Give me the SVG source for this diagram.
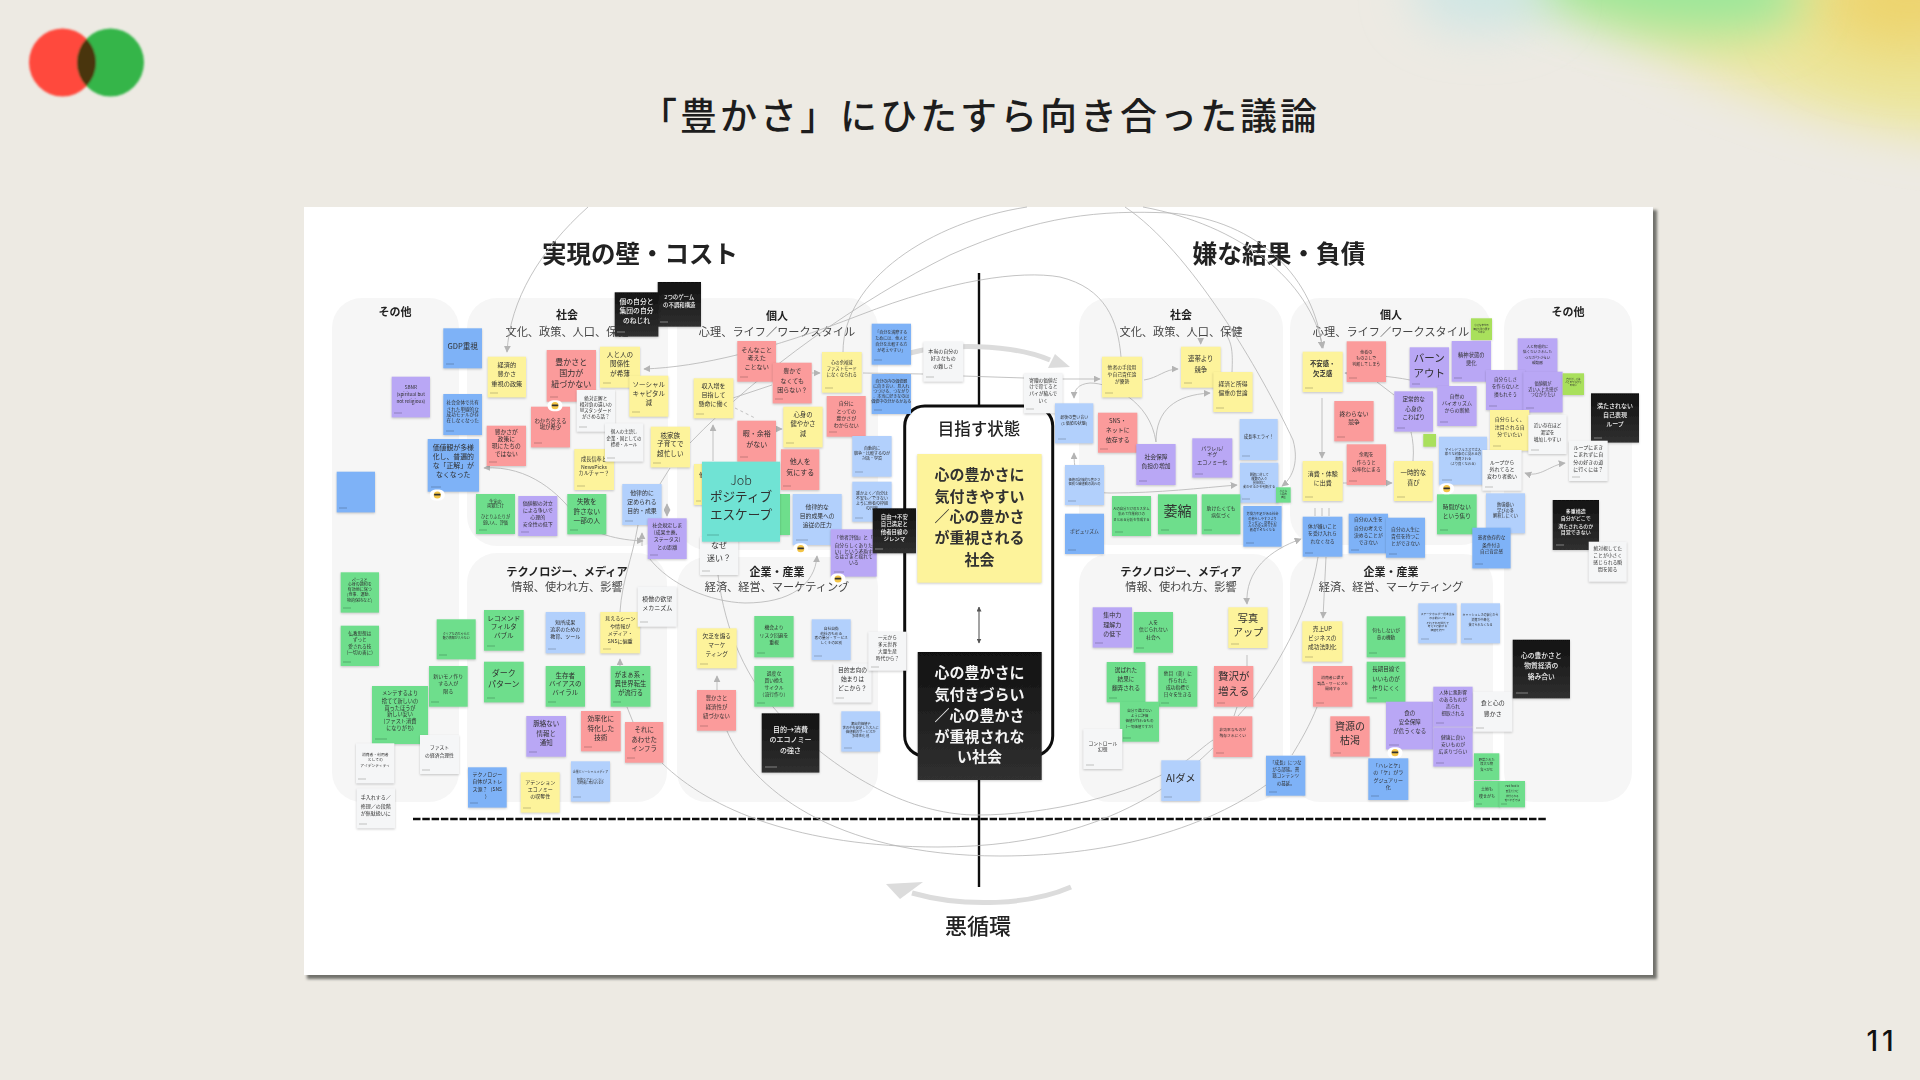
<svg xmlns="http://www.w3.org/2000/svg" xmlns:xlink="http://www.w3.org/1999/xlink" width="1920" height="1080" viewBox="0 0 1920 1080">
<style>
text{font-family:"Noto Sans CJK JP","Noto Sans",sans-serif;text-anchor:middle;fill:#303030}
.panel{fill:#f6f6f6}
.hd{font-weight:700;fill:#222}
.sub{font-size:11.2px;fill:#444}
.c{fill:none;stroke:#b4b4b4;stroke-width:.8}
.ca{marker-end:url(#ah)}
.cb{marker-end:url(#ah);marker-start:url(#ah)}
.n{filter:drop-shadow(0 1px 1px rgba(0,0,0,.2))}
.y{fill:#fdf39b}.r{fill:#fb9b9b}.b{fill:#7eb2f7}.l{fill:#b2d0fc}.p{fill:#b9a7f5}.g{fill:#6ede8c}.w{fill:#f5f6f7}.k{fill:url(#kg)}.t{fill:#6fe3d4}.m{fill:#a9e05c}
.a{stroke:#000;stroke-opacity:.22;stroke-width:1;fill:none}
.k~text{fill:#f4f4f4;font-weight:500}
.k~.a{stroke:#fff;stroke-opacity:.4}
</style>
<defs>
<filter id="soft" x="0" y="0" width="1920" height="1080" filterUnits="userSpaceOnUse"><feGaussianBlur stdDeviation="0.38"/></filter>
<filter id="sh" x="280" y="190" width="1400" height="810" filterUnits="userSpaceOnUse"><feGaussianBlur stdDeviation="1.6"/></filter>
<filter id="bl1" x="1200" y="-300" width="1000" height="800" filterUnits="userSpaceOnUse"><feGaussianBlur stdDeviation="34"/></filter>
<filter id="bl2" x="1200" y="-300" width="1000" height="800" filterUnits="userSpaceOnUse"><feGaussianBlur stdDeviation="24"/></filter>
<filter id="bl3" x="0" y="0" width="200" height="150" filterUnits="userSpaceOnUse"><feGaussianBlur stdDeviation="1"/></filter>
<linearGradient id="kg" x1="0" y1="0" x2="0" y2="1"><stop offset="0" stop-color="#111"/><stop offset="1" stop-color="#303030"/></linearGradient>
<clipPath id="rc"><ellipse cx="62.5" cy="62.5" rx="33.5" ry="34"/></clipPath>
<marker id="ah" viewBox="0 0 10 10" refX="9" refY="5" markerWidth="7" markerHeight="7" markerUnits="userSpaceOnUse" orient="auto-start-reverse"><path d="M0 0L10 5L0 10Z" fill="#b4b4b4"/></marker>
<marker id="ad" viewBox="0 0 10 10" refX="9" refY="5" markerWidth="5" markerHeight="5" markerUnits="userSpaceOnUse" orient="auto-start-reverse"><path d="M0 0L10 5L0 10Z" fill="#555"/></marker>
<g id="em"><rect x="-7.500" y="-5.500" width="15" height="11" rx="5.500" fill="#fff"/><circle r="3.600" fill="#f3c445"/><rect x="-3.200" y="-1.300" width="6.400" height="1.800" rx=".6" fill="#333"/></g>
</defs>
<rect width="1920" height="1080" fill="#edeae3"/>
<g id="corner-glow">
<ellipse cx="1780" cy="20" rx="270" ry="75" transform="rotate(20 1780 20)" fill="#ece69c" filter="url(#bl2)"/>
<ellipse cx="1910" cy="-5" rx="100" ry="55" fill="#edd266" filter="url(#bl1)"/>
<ellipse cx="1640" cy="-28" rx="165" ry="55" transform="rotate(10 1640 -28)" fill="#9ce79a" filter="url(#bl2)"/>
<ellipse cx="1480" cy="-10" rx="70" ry="40" fill="#cfe6e4" filter="url(#bl2)"/>
</g>
<g id="logo" filter="url(#bl3)">
<ellipse cx="62.5" cy="62.5" rx="33.5" ry="34" fill="#ff4a3d"/>
<ellipse cx="110.5" cy="62.5" rx="33.5" ry="34" fill="#35b54a"/>
<ellipse cx="110.5" cy="62.5" rx="33.5" ry="34" fill="#4a3510" clip-path="url(#rc)"/>
</g>
<text id="title" x="980" y="130" font-size="37" font-weight="500" letter-spacing="3" style="fill:#1d1d1d">「豊かさ」にひたすら向き合った議論</text>
<text id="page" x="1882" y="1051" font-size="28" font-weight="500" letter-spacing="4" style="font-family:Inter,'Liberation Sans',sans-serif;fill:#111">11</text>
<rect x="307" y="210" width="1350" height="769" fill="#6f6f6a" filter="url(#sh)"/>
<g id="sheet" filter="url(#soft)">
<rect x="304" y="207" width="1349" height="768" fill="#fff"/>
<g id="panels">
<rect class="panel" x="332" y="298" width="127" height="504" rx="30"/>
<rect class="panel" x="467" y="298" width="201" height="248" rx="30"/>
<rect class="panel" x="467" y="553" width="200" height="249" rx="30"/>
<rect class="panel" x="677" y="298" width="201" height="252" rx="30"/>
<rect class="panel" x="677" y="557" width="201" height="245" rx="30"/>
<rect class="panel" x="1079" y="298" width="204" height="247" rx="30"/>
<rect class="panel" x="1079" y="554" width="204" height="248" rx="30"/>
<rect class="panel" x="1290" y="298" width="201" height="247" rx="30"/>
<rect class="panel" x="1290" y="554" width="203" height="248" rx="30"/>
<rect class="panel" x="1504" y="298" width="128" height="504" rx="30"/>
</g>
<g id="headings">
<text class="hd" x="640" y="263" font-size="24.5">実現の壁・コスト</text>
<text class="hd" x="1279" y="263" font-size="24.7">嫌な結果・負債</text>
<text class="hd" x="395" y="316" font-size="11">その他</text>
<text class="hd" x="567" y="319" font-size="11">社会</text>
<text class="sub" x="567" y="336">文化、政策、人口、保健</text>
<text class="hd" x="777" y="320" font-size="11">個人</text>
<text class="sub" x="777" y="336">心理、ライフ／ワークスタイル</text>
<text class="hd" x="567" y="576" font-size="11.2">テクノロジー、メディア</text>
<text class="sub" x="567" y="591">情報、使われ方、影響</text>
<text class="hd" x="777" y="576" font-size="11">企業・産業</text>
<text class="sub" x="777" y="591">経済、経営、マーケティング</text>
<text class="hd" x="1181" y="319" font-size="11">社会</text>
<text class="sub" x="1181" y="336">文化、政策、人口、保健</text>
<text class="hd" x="1391" y="319" font-size="11">個人</text>
<text class="sub" x="1391" y="336">心理、ライフ／ワークスタイル</text>
<text class="hd" x="1181" y="576" font-size="11.2">テクノロジー、メディア</text>
<text class="sub" x="1181" y="591">情報、使われ方、影響</text>
<text class="hd" x="1391" y="576" font-size="11">企業・産業</text>
<text class="sub" x="1391" y="591">経済、経営、マーケティング</text>
<text class="hd" x="1568" y="316" font-size="11">その他</text>
</g>
<g id="axis">
<path d="M979 273V406M979 780V887" stroke="#111" stroke-width="2.400" fill="none"/>
<path d="M413 819H1546" stroke="#111" stroke-width="2.400" stroke-dasharray="7.500 1.800" fill="none"/>
</g>
<g id="connectors">
<path class="c ca" d="M588 207C540 250 510 300 507 352"/>
<path class="c" d="M843 352C843 280 930 222 1027 207"/>
<path class="c ca" d="M690 443C760 370 860 300 950 255C1040 215 1100 210 1170 213C1260 220 1315 280 1322 348"/>
<path class="c ca" d="M1143 207C1240 225 1310 280 1323 348"/>
<path class="c ca" d="M1121 357C1118 320 1105 288 1060 277C1020 270 950 280 860 315C770 350 700 367 644 369"/>
<path class="c" d="M772 385L733 398"/>
<path class="c ca" d="M1125 207C1190 250 1260 370 1293 440C1300 465 1290 480 1282 486"/>
<path class="c" d="M1232 372C1233 350 1232 340 1222 330"/>
<path class="c cb" d="M484 468C530 465 560 495 575 515C590 535 620 540 643 541"/>
<path class="c cb" d="M1074 453C1074 480 1082 493 1110 493C1160 493 1200 488 1237 485"/>
<path class="c ca" d="M1156 442C1156 410 1175 395 1210 393"/>
<path class="c ca" d="M1156 442C1150 400 1110 383 1090 383C1078 384 1074 390 1074 398"/>
<path class="c ca" d="M1144 380C1158 378 1165 369 1178 369"/>
<path class="c ca" d="M1060 379H1100"/>
<path class="c" d="M863 373L923 374M963 376L1024 378"/>
<path class="c ca" d="M1200.700 338V344"/>
<path class="c ca" d="M812 373H820"/>
<path class="c ca" d="M776 429H782"/>
<path class="c ca" d="M713 461V425"/>
<path class="c" d="M735 408L755 418" stroke-dasharray="3 3"/>
<path class="c ca" d="M649 558C670 585 710 602 745 603C790 603 815 585 817 556"/>
<path class="c" d="M718 575C725 630 745 680 785 720C850 785 920 815 977 815C1050 815 1130 795 1180 765C1195 755 1205 745 1213 740"/>
<path class="c" d="M727 731C750 785 830 856 1000 856C1120 856 1210 825 1266 785"/>
<path class="c" d="M662 763C710 810 800 847 938 847C1040 847 1110 822 1160 790C1185 775 1200 760 1213 748"/>
<path class="c" d="M670 468L660 484"/>
<path class="c" d="M638 525C632 560 622 580 620 612"/>
<path class="c ca" d="M642 546V533"/>
<path class="c cb" d="M667 504V516"/>
<path class="c ca" d="M620 666V659"/>
<path class="c" d="M627 707L635 727"/>
<path class="c ca" d="M717 690V676"/>
<path class="c ca" d="M1322 398V458"/>
<path class="c ca" d="M1343 483H1392"/>
<path class="c" d="M1413 461C1414 450 1413 440 1411 432"/>
<path class="c ca" d="M1410 380C1390 376 1370 375 1345 373"/>
<path class="c" d="M1377 382L1394 395"/>
<path class="c" d="M1315 508V516M1322 508V516M1329 508V516"/>
<path class="c cb" d="M1301 539C1270 550 1245 570 1247 604"/>
<path class="c" d="M1318 557C1310 610 1280 660 1255 697C1248 705 1243 710 1238 716"/>
<path class="c ca" d="M1326 557L1323 618"/>
<path class="c" d="M1317 707C1310 725 1300 742 1292 755"/>
<path class="c" d="M1247 655V666M1237 707L1234 716"/>
<path class="c cb" d="M1525 473C1540 478 1550 465 1565 463"/>
<path d="M910 353C945 344 1010 343 1050 360" fill="none" stroke="#dcdcdc" stroke-width="5"/>
<path d="M1055 354L1070 367L1048 368Z" fill="#dcdcdc"/>
<path d="M1071 887C1030 905 965 908 912 893" fill="none" stroke="#dcdcdc" stroke-width="5"/>
<path d="M923 882L886 884L900 899Z" fill="#dcdcdc"/>
</g>
<g id="goal-frame">
<rect x="904.700" y="406" width="148" height="350" rx="20" fill="#fff" stroke="#111" stroke-width="3"/>
<text x="979" y="435" font-size="16.500" font-weight="500" style="fill:#222">目指す状態</text>
<path d="M979 607V643" stroke="#666" stroke-width="1.200" fill="none" marker-start="url(#ad)" marker-end="url(#ad)"/>
<text x="978" y="934" font-size="22" font-weight="500" style="fill:#222">悪循環</text>
</g>

<g id="n1" class="n"><rect class="b" x="443.300" y="328.300" width="38.700" height="40"/><path class="a" d="M446 364h8"/><text font-size="7.600"><tspan x="462.700" y="348.800">GDP重視</tspan></text></g>
<g id="n2" class="n"><rect class="p" x="391.700" y="376.700" width="38.300" height="40.700"/><path class="a" d="M394 413h8"/><text font-size="4.700"><tspan x="410.800" y="388.700">SBNR</tspan><tspan x="410.800" y="395.700">(spiritual but</tspan><tspan x="410.800" y="402.700">not religious)</tspan></text></g>
<g id="n3" class="n"><rect class="b" x="443.300" y="394" width="38.700" height="41"/><path class="a" d="M446 431h8"/><text font-size="4.600"><tspan x="462.700" y="404.400">社会全体で共有</tspan><tspan x="462.700" y="410.700">された単線的な</tspan><tspan x="462.700" y="416.400">成功モデルが存</tspan><tspan x="462.700" y="422.400">在しなくなった</tspan></text></g>
<g id="n4" class="n"><rect class="b" x="427.700" y="439" width="51.300" height="52.700"/><path class="a" d="M431 487h10"/><text font-size="6.900"><tspan x="453.300" y="449.800">価値観が多様</tspan><tspan x="453.300" y="459.200">化し、普遍的</tspan><tspan x="453.300" y="468.200">な「正解」が</tspan><tspan x="453.300" y="477.200">なくなった</tspan></text></g>
<g id="n5" class="n"><rect class="b" x="336.700" y="471.700" width="38.300" height="40.700"/><path class="a" d="M339 508h8"/></g>
<g id="n6" class="n"><rect class="y" x="487.700" y="356.700" width="38.300" height="40.700"/><path class="a" d="M490 393h8"/><text font-size="6.200"><tspan x="506.800" y="367.300">経済的</tspan><tspan x="506.800" y="376.300">豊かさ</tspan><tspan x="506.800" y="385.600">重視の政策</tspan></text></g>
<g id="n7" class="n"><rect class="r" x="546.700" y="350" width="49.300" height="51.700"/><path class="a" d="M550 397h8"/><text font-size="8"><tspan x="571.300" y="364.700">豊かさと</tspan><tspan x="571.300" y="375.700">国力が</tspan><tspan x="571.300" y="386.700">紐づかない</tspan></text></g>
<g id="n8" class="n"><rect class="y" x="600" y="346.700" width="40" height="41"/><path class="a" d="M603 383h8"/><text font-size="6.600"><tspan x="620" y="357.400">人と人の</tspan><tspan x="620" y="366.400">関係性</tspan><tspan x="620" y="376.100">が希薄</tspan></text></g>
<g id="n9" class="n"><rect class="y" x="629.300" y="375.700" width="39" height="41"/><path class="a" d="M632 412h8"/><text font-size="6.500"><tspan x="648.800" y="386.700">ソーシャル</tspan><tspan x="648.800" y="395.700">キャピタル</tspan><tspan x="648.800" y="404.700">減</tspan></text></g>
<g id="n11" class="n"><rect class="r" x="531" y="406.700" width="39" height="40.700"/><path class="a" d="M534 443h8"/><text font-size="5.400"><tspan x="550.500" y="422.700">わかち合える</tspan><tspan x="550.500" y="429.300">場が希少</tspan></text></g>
<g id="n10" class="n"><rect class="w" x="576.700" y="390" width="38.300" height="41.700"/><path class="a" d="M579 427h8"/><text font-size="4.600"><tspan x="595.800" y="400">絶対正解と</tspan><tspan x="595.800" y="406">相対負の違いの</tspan><tspan x="595.800" y="412.400">Wスタンダード</tspan><tspan x="595.800" y="418.400">がさめる話？</tspan></text></g>
<g id="n12" class="n"><rect class="r" x="486.700" y="425.700" width="39.300" height="40.300"/><path class="a" d="M489 462h8"/><text font-size="5.800"><tspan x="506.300" y="433.800">豊かさが</tspan><tspan x="506.300" y="440.800">政策に</tspan><tspan x="506.300" y="448.100">現にたちの</tspan><tspan x="506.300" y="455.800">ではない</tspan></text></g>
<g id="n15" class="n"><rect class="y" x="574.300" y="449" width="39.700" height="41"/><path class="a" d="M577 486h8"/><text font-size="5.200"><tspan x="594" y="460.900">成長信奉と</tspan><tspan x="594" y="468.600">NewsPicks</tspan><tspan x="594" y="475.200">カルチャー？</tspan></text></g>
<g id="n13" class="n"><rect class="w" x="605" y="423.300" width="38.300" height="38.300"/><path class="a" d="M607 458h8"/><text font-size="4.400"><tspan x="624" y="433.300">個人の主語し</tspan><tspan x="624" y="440.300">企業・国としての</tspan><tspan x="624" y="445.600">標榜・ルール</tspan></text></g>
<g id="n14" class="n"><rect class="y" x="650.700" y="426.700" width="39.300" height="40.700"/><path class="a" d="M653 463h8"/><text font-size="6.600"><tspan x="670.300" y="438.100">核家族</tspan><tspan x="670.300" y="446.400">子育てで</tspan><tspan x="670.300" y="455.700">超忙しい</tspan></text></g>
<g id="n16" class="n"><rect class="l" x="622.300" y="484" width="39.300" height="41"/><path class="a" d="M625 521h8"/><text font-size="5.900"><tspan x="642" y="494.900">他律的に</tspan><tspan x="642" y="503.900">定められる</tspan><tspan x="642" y="512.900">目的・成果</tspan></text></g>
<g id="n17" class="n"><rect class="g" x="567.300" y="494" width="39" height="40.300"/><path class="a" d="M570 530h8"/><text font-size="6.600"><tspan x="586.800" y="504.100">失敗を</tspan><tspan x="586.800" y="513.700">許さない</tspan><tspan x="586.800" y="523.100">一部の人</tspan></text></g>
<g id="n18" class="n"><rect class="p" x="518.300" y="496" width="39" height="40"/><path class="a" d="M521 532h8"/><text font-size="5"><tspan x="537.800" y="504.500">価値観の対立</tspan><tspan x="537.800" y="511.800">による争いで</tspan><tspan x="537.800" y="519.100">心理的</tspan><tspan x="537.800" y="525.800">安全性の低下</tspan></text></g>
<g id="n19" class="n"><rect class="g" x="476" y="494" width="39" height="40"/><path class="a" d="M479 530h8"/><text font-size="4.200"><tspan x="495.500" y="502.500">生命の</tspan><tspan x="495.500" y="506.800">両親だけ</tspan><tspan x="495.500" y="518.200">ひとりふたりが</tspan><tspan x="495.500" y="523.500">弱い人、評価</tspan></text></g>
<g id="n20" class="n"><rect class="p" x="647.700" y="518.300" width="39" height="40.700"/><path class="a" d="M650 555h8"/><text font-size="5"><tspan x="667.200" y="526.800">社会規定しま</tspan><tspan x="667.200" y="534.100">(成果主義、</tspan><tspan x="667.200" y="541.100">ステータス)</tspan><tspan x="667.200" y="548.500">との距離</tspan></text></g>
<g id="n22" class="n"><rect class="k" x="657.700" y="282" width="43.300" height="44.700"/><path class="a" d="M660 322h8"/><text font-size="5.400"><tspan x="679.300" y="299.300">2つのゲーム</tspan><tspan x="679.300" y="307">の不調和構造</tspan></text></g>
<g id="n21" class="n"><rect class="k" x="614.700" y="292.300" width="43.700" height="44.300"/><path class="a" d="M617 332h8"/><text font-size="6.800"><tspan x="636.500" y="304.200">個の自分と</tspan><tspan x="636.500" y="313.200">集団の自分</tspan><tspan x="636.500" y="323.200">のねじれ</tspan></text></g>

<g id="n23" class="n"><rect class="g" x="340.700" y="572.300" width="38.300" height="40.300"/><path class="a" d="M343 608h8"/><text font-size="4"><tspan x="359.800" y="581.500">ペースと</tspan><tspan x="359.800" y="586.200">心身の調和を</tspan><tspan x="359.800" y="590.800">有効地に保つ</tspan><tspan x="359.800" y="595.800">(食事、運動、</tspan><tspan x="359.800" y="601.500">物的保持など)</tspan></text></g>
<g id="n24" class="n"><rect class="g" x="340.700" y="625.700" width="38.300" height="40.300"/><path class="a" d="M343 662h8"/><text font-size="4.600"><tspan x="359.800" y="635.400">仏教思想は</tspan><tspan x="359.800" y="641.400">ずっと</tspan><tspan x="359.800" y="647.700">愛される技</tspan><tspan x="359.800" y="654">(一切の善に)</tspan></text></g>
<g id="n25" class="n"><rect class="g" x="436.700" y="619.300" width="39" height="40"/><path class="a" d="M439 655h8"/><text font-size="3"><tspan x="456.200" y="635.400">クリアなのちゃんと</tspan><tspan x="456.200" y="639.400">魅力情報が入らない</tspan></text></g>
<g id="n26" class="n"><rect class="g" x="429" y="666" width="38.700" height="40.700"/><path class="a" d="M431 702h8"/><text font-size="5"><tspan x="448.300" y="677.800">新いモノ作り</tspan><tspan x="448.300" y="685.100">する人が</tspan><tspan x="448.300" y="692.500">限る</tspan></text></g>
<g id="n27" class="n"><rect class="g" x="372" y="686" width="56" height="58"/><path class="a" d="M375 739h12"/><text font-size="5.200"><tspan x="400" y="695.200">メンテするより</tspan><tspan x="400" y="702.900">捨てて新しいの</tspan><tspan x="400" y="709.600">買ったほうが</tspan><tspan x="400" y="715.900">新しい安い</tspan><tspan x="400" y="722.900">(ファスト消費</tspan><tspan x="400" y="730.200">になりがち)</tspan></text></g>
<g id="n28" class="n"><rect class="w" x="356" y="743.300" width="38.300" height="40"/><path class="a" d="M358 779h8"/><text font-size="3.800"><tspan x="375.200" y="756.100">消費者・利用者</tspan><tspan x="375.200" y="761.400">としての</tspan><tspan x="375.200" y="766.700">アイデンティティ</tspan></text></g>
<g id="n29" class="n"><rect class="w" x="420" y="735" width="39" height="39"/><path class="a" d="M422 770h8"/><text font-size="4.800"><tspan x="439.500" y="749.100">ファスト</tspan><tspan x="439.500" y="756.800">の経済合理性</tspan></text></g>
<g id="n30" class="n"><rect class="w" x="356.700" y="788.300" width="38.300" height="40"/><path class="a" d="M359 824h8"/><text font-size="5"><tspan x="375.800" y="799.100">手入れする／</tspan><tspan x="375.800" y="807.500">修理／の段階</tspan><tspan x="375.800" y="814.800">が無駄扱いに</tspan></text></g>
<g id="n31" class="n"><rect class="g" x="484" y="610" width="39.700" height="40.700"/><path class="a" d="M487 646h8"/><text font-size="6.600"><tspan x="503.800" y="621.100">レコメンド</tspan><tspan x="503.800" y="629.400">フィルタ</tspan><tspan x="503.800" y="638.400">バブル</tspan></text></g>
<g id="n32" class="n"><rect class="l" x="545.700" y="612" width="39.300" height="41.300"/><path class="a" d="M548 649h8"/><text font-size="5"><tspan x="565.300" y="624.100">短所成果</tspan><tspan x="565.300" y="631.100">追求のための</tspan><tspan x="565.300" y="638.100">教育、ツール</tspan></text></g>
<g id="n33" class="n"><rect class="y" x="600.300" y="612" width="39.700" height="41.300"/><path class="a" d="M603 649h8"/><text font-size="5.100"><tspan x="620.200" y="620.200">見えるシーン</tspan><tspan x="620.200" y="627.900">や情報が</tspan><tspan x="620.200" y="635.200">メディア・</tspan><tspan x="620.200" y="642.600">SNSに偏重</tspan></text></g>
<g id="n34" class="n"><rect class="w" x="637.700" y="586.700" width="39" height="40"/><path class="a" d="M640 622h8"/><text font-size="6"><tspan x="657.200" y="600.900">模倣の欲望</tspan><tspan x="657.200" y="609.500">メカニズム</tspan></text></g>
<g id="n35" class="n"><rect class="g" x="484" y="661.700" width="39.700" height="40.700"/><path class="a" d="M487 698h8"/><text font-size="8"><tspan x="503.800" y="676.300">ダーク</tspan><tspan x="503.800" y="687.300">パターン</tspan></text></g>
<g id="n36" class="n"><rect class="g" x="545.700" y="666" width="39.300" height="40.700"/><path class="a" d="M548 702h8"/><text font-size="6.500"><tspan x="565.300" y="677.700">生存者</tspan><tspan x="565.300" y="686.400">バイアスの</tspan><tspan x="565.300" y="695.100">バイラル</tspan></text></g>
<g id="n37" class="n"><rect class="g" x="610.700" y="666" width="39.700" height="40.700"/><path class="a" d="M613 702h8"/><text font-size="6.300"><tspan x="630.500" y="677.300">がまぁ系・</tspan><tspan x="630.500" y="686.300">異世界転生</tspan><tspan x="630.500" y="695">が流行る</tspan></text></g>
<g id="n38" class="n"><rect class="p" x="526.300" y="716" width="39.700" height="40.700"/><path class="a" d="M529 752h8"/><text font-size="6.500"><tspan x="546.200" y="726.400">脈絡ない</tspan><tspan x="546.200" y="736.100">情報と</tspan><tspan x="546.200" y="745.100">通知</tspan></text></g>
<g id="n39" class="n"><rect class="r" x="581" y="711" width="39.700" height="40.300"/><path class="a" d="M584 747h8"/><text font-size="6.600"><tspan x="600.800" y="721.400">効率化に</tspan><tspan x="600.800" y="731.100">特化した</tspan><tspan x="600.800" y="740.100">技術</tspan></text></g>
<g id="n40" class="n"><rect class="r" x="625" y="722" width="38.300" height="40.700"/><path class="a" d="M627 758h8"/><text font-size="6.400"><tspan x="644.200" y="732.100">それに</tspan><tspan x="644.200" y="741.700">あわせた</tspan><tspan x="644.200" y="751.100">インフラ</tspan></text></g>
<g id="n41" class="n"><rect class="b" x="468" y="767.300" width="38.700" height="40.300"/><path class="a" d="M470 803h8"/><text font-size="5"><tspan x="487.300" y="775.800">テクノロジー</tspan><tspan x="487.300" y="783.100">自体がストレ</tspan><tspan x="487.300" y="790.500">ス源？（SNS</tspan><tspan x="487.300" y="797.500">）</tspan></text></g>
<g id="n42" class="n"><rect class="y" x="520.700" y="772.300" width="39" height="40.300"/><path class="a" d="M523 808h8"/><text font-size="5"><tspan x="540.200" y="784.100">アテンション</tspan><tspan x="540.200" y="791.100">エコノミー</tspan><tspan x="540.200" y="798.100">の収奪性</tspan></text></g>
<g id="n43" class="n"><rect class="l" x="571" y="761.300" width="39" height="40.300"/><path class="a" d="M573 797h8"/><text font-size="3"><tspan x="590.500" y="773.400">企業とソーシャルメディア</tspan><tspan x="590.500" y="781.100">知的なアテンション</tspan><tspan x="590.500" y="784.400">の時間に奪われるか</tspan></text></g>

<g id="n44" class="n"><rect class="r" x="737.300" y="341" width="38.700" height="40.700"/><path class="a" d="M740 377h8"/><text font-size="6.200"><tspan x="756.700" y="351.600">そんなこと</tspan><tspan x="756.700" y="360">考えた</tspan><tspan x="756.700" y="369">ことない</tspan></text></g>
<g id="n45" class="n"><rect class="r" x="772.700" y="362.700" width="39" height="40.700"/><path class="a" d="M775 399h8"/><text font-size="6"><tspan x="792.200" y="373.200">豊かで</tspan><tspan x="792.200" y="382.500">なくても</tspan><tspan x="792.200" y="391.500">困らない？</tspan></text></g>
<g id="n46" class="n"><rect class="y" x="822" y="352" width="39.700" height="40.700"/><path class="a" d="M825 388h8"/><text font-size="4.300"><tspan x="841.800" y="363.900">心の余裕減</tspan><tspan x="841.800" y="370.300">ファストモード</tspan><tspan x="841.800" y="375.900">になくなられる</tspan></text></g>
<g id="n47" class="n"><rect class="b" x="871.700" y="323.700" width="39.300" height="41"/><path class="a" d="M874 360h8"/><text font-size="4"><tspan x="891.300" y="334.200">「自分を満際する</tspan><tspan x="891.300" y="339.800">ためには、他人と</tspan><tspan x="891.300" y="345.500">自分を比較する方</tspan><tspan x="891.300" y="351.500">が考えやすい」</tspan></text></g>
<g id="n48" class="n"><rect class="w" x="923.300" y="341.700" width="40" height="40"/><path class="a" d="M926 377h8"/><text font-size="5"><tspan x="943.300" y="353.100">本当の自分の</tspan><tspan x="943.300" y="360.100">好きなもの</tspan><tspan x="943.300" y="367.500">の難しさ</tspan></text></g>
<g id="n49" class="n"><rect class="b" x="871.700" y="374" width="39.300" height="40"/><path class="a" d="M874 410h8"/><text font-size="4"><tspan x="891.300" y="382.500">自分の内の価値観</tspan><tspan x="891.300" y="388.200">に向き合い、見入れ</tspan><tspan x="891.300" y="393.200">つつける、つながり</tspan><tspan x="891.300" y="398.200">、本当に好きなのは</tspan><tspan x="891.300" y="403.200">価値中の分かるかある</tspan></text></g>
<g id="n50" class="n"><rect class="y" x="693.700" y="378.300" width="39.700" height="40"/><path class="a" d="M696 414h8"/><text font-size="6"><tspan x="713.500" y="387.900">収入増を</tspan><tspan x="713.500" y="396.900">目指して</tspan><tspan x="713.500" y="405.900">懸命に働く</tspan></text></g>
<g id="n51" class="n"><rect class="r" x="826.700" y="396" width="39" height="40.700"/><path class="a" d="M829 432h8"/><text font-size="5"><tspan x="846.200" y="405.100">自分に</tspan><tspan x="846.200" y="412.500">とっての</tspan><tspan x="846.200" y="419.500">豊かさが</tspan><tspan x="846.200" y="426.800">わからない</tspan></text></g>
<g id="n52" class="n"><rect class="y" x="783.300" y="406.700" width="39.300" height="40.700"/><path class="a" d="M786 443h8"/><text font-size="6.300"><tspan x="803" y="417.300">心身の</tspan><tspan x="803" y="426.300">健やかさ</tspan><tspan x="803" y="435.600">減</tspan></text></g>
<g id="n53" class="n"><rect class="r" x="737.300" y="420.700" width="38.700" height="41"/><path class="a" d="M740 457h8"/><text font-size="7"><tspan x="756.700" y="435.900">暇・余裕</tspan><tspan x="756.700" y="446.600">がない</tspan></text></g>
<g id="n54" class="n"><rect class="l" x="852.300" y="436" width="39.300" height="40.700"/><path class="a" d="M855 472h8"/><text font-size="4"><tspan x="872" y="449.800">自動的に</tspan><tspan x="872" y="455.200">競争・比較するのが</tspan><tspan x="872" y="459.800">対話・学習</tspan></text></g>
<g id="n55" class="n"><rect class="r" x="781" y="449.300" width="38.300" height="40.700"/><path class="a" d="M783 486h8"/><text font-size="7"><tspan x="800.200" y="464.300">他人を</tspan><tspan x="800.200" y="474.900">気にする</tspan></text></g>
<g id="n60" class="n"><rect class="l" x="852.300" y="481.700" width="39.300" height="40"/><path class="a" d="M855 518h8"/><text font-size="4"><tspan x="872" y="494.800">誰かよく／自分は</tspan><tspan x="872" y="499.800">不安も／できない</tspan><tspan x="872" y="504.800">ように他者の枠組</tspan><tspan x="872" y="509.800">の尺度</tspan></text></g>
<g id="n57" class="n"><rect class="y" x="694" y="464" width="40" height="41"/><path class="a" d="M696 501h5"/><text font-size="6"><tspan x="714" y="477">他人の目線</tspan><tspan x="714" y="495">表面的な</tspan></text></g>
<g id="n58" class="n"><rect class="g" x="750" y="494" width="40" height="41"/></g>
<g id="n63" class="n"><rect class="w" x="700" y="536.700" width="38.300" height="38.300"/><path class="a" d="M702 571h8"/><text font-size="8"><tspan x="719" y="548">なぜ</tspan><tspan x="719" y="561.300">迷い？</tspan></text></g>
<g id="n56" class="n"><rect class="t" x="702" y="461.700" width="78" height="80"/><path class="a" d="M707 535h12"/><text font-size="12.600"><tspan x="741" y="484.700" font-weight="300">Job</tspan><tspan x="741" y="500.700">ポジティブ</tspan><tspan x="741" y="519">エスケープ</tspan></text></g>
<g id="n59" class="n"><rect class="l" x="792.700" y="494" width="49" height="51"/><path class="a" d="M796 540h12"/><text font-size="5.800"><tspan x="817.200" y="508.800">他律的な</tspan><tspan x="817.200" y="518.100">目的成果への</tspan><tspan x="817.200" y="527.100">追従の圧力</tspan></text></g>
<g id="n62" class="n"><rect class="p" x="830.700" y="529.300" width="46" height="47.300"/><path class="a" d="M834 572h10"/><text font-size="4.800"><tspan x="853.700" y="538.500">「他者評価」と「</tspan><tspan x="853.700" y="546.800">自分らしくありた</tspan><tspan x="853.700" y="552.500">い」という矛盾す</tspan><tspan x="853.700" y="557.800">るはざまと揺れて</tspan><tspan x="853.700" y="563.800">いる</tspan></text></g>

<g id="n64" class="n"><rect class="y" x="697" y="628.300" width="39.700" height="40"/><path class="a" d="M700 664h8"/><text font-size="5.700"><tspan x="716.800" y="638.100">欠乏を煽る</tspan><tspan x="716.800" y="647.100">マーケ</tspan><tspan x="716.800" y="656.100">ティング</tspan></text></g>
<g id="n65" class="n"><rect class="r" x="697" y="690" width="39" height="40.700"/><path class="a" d="M700 726h8"/><text font-size="5.400"><tspan x="716.500" y="700">豊かさと</tspan><tspan x="716.500" y="709.300">経済性が</tspan><tspan x="716.500" y="717.700">紐づかない</tspan></text></g>
<g id="n66" class="n"><rect class="g" x="754.300" y="616" width="39.300" height="41.300"/><path class="a" d="M757 653h8"/><text font-size="4.800"><tspan x="774" y="629.100">機会より</tspan><tspan x="774" y="636.500">リスク回避を</tspan><tspan x="774" y="643.500">重視</tspan></text></g>
<g id="n67" class="n"><rect class="l" x="811.700" y="619.300" width="39" height="40.700"/><path class="a" d="M814 656h8"/><text font-size="3.700"><tspan x="831.200" y="630.400">自社自働</tspan><tspan x="831.200" y="634.700">他社のもめる</tspan><tspan x="831.200" y="639.400">者の量分・サービス</tspan><tspan x="831.200" y="644.100">しくその区別</tspan></text></g>
<g id="n68" class="n"><rect class="g" x="754.300" y="666" width="39.300" height="40.700"/><path class="a" d="M757 703h8"/><text font-size="4.800"><tspan x="774" y="675.100">過度な</tspan><tspan x="774" y="682.100">買い換え</tspan><tspan x="774" y="689.100">サイクル</tspan><tspan x="774" y="696.100">（流行作り）</tspan></text></g>
<g id="n70" class="n"><rect class="w" x="833.300" y="663.300" width="38.300" height="39.300"/><path class="a" d="M836 698h8"/><text font-size="5.800"><tspan x="852.500" y="672.100">目的志向の</tspan><tspan x="852.500" y="681.100">始まりは</tspan><tspan x="852.500" y="689.800">どこから？</tspan></text></g>
<g id="n71" class="n"><rect class="k" x="761.700" y="713.300" width="57.700" height="59.300"/><path class="a" d="M765 767h12"/><text font-size="7"><tspan x="790.500" y="731.600">目的→消費</tspan><tspan x="790.500" y="741.900">のエコノミー</tspan><tspan x="790.500" y="752.600">の強さ</tspan></text></g>
<g id="n72" class="n"><rect class="l" x="841.300" y="711.300" width="38.700" height="40.300"/><path class="a" d="M844 748h8"/><text font-size="3.300"><tspan x="860.700" y="724.500">演出的価値や</tspan><tspan x="860.700" y="728.900">世の中を安定した大人に</tspan><tspan x="860.700" y="733.200">価値観のサービスが</tspan><tspan x="860.700" y="736.500">多様性化 他</tspan></text></g>

<g id="goal-good" class="n"><rect class="y" x="917.300" y="454" width="124.300" height="128.700"/><text font-size="15" font-weight="700"><tspan x="979.500" y="479.800">心の豊かさに</tspan><tspan x="979.500" y="502.200">気付きやすい</tspan><tspan x="979.500" y="521.500">／心の豊かさ</tspan><tspan x="979.500" y="543.200">が重視される</tspan><tspan x="979.500" y="564.500">社会</tspan></text></g>
<g id="goal-bad" class="n"><rect class="k" x="917.700" y="652" width="124" height="128"/><text font-size="15" style="font-weight:700"><tspan x="979.500" y="678.200">心の豊かさに</tspan><tspan x="979.500" y="699.500">気付きづらい</tspan><tspan x="979.500" y="720.500">／心の豊かさ</tspan><tspan x="979.500" y="741.500">が重視されな</tspan><tspan x="979.500" y="762.200">い社会</tspan></text></g>
<g id="n61" class="n"><rect class="k" x="872.700" y="508.300" width="43.300" height="45"/><path class="a" d="M875 549h8"/><text font-size="5.400"><tspan x="894.300" y="518.700">自由→不安</tspan><tspan x="894.300" y="526">自己満足と</tspan><tspan x="894.300" y="534.300">他者目線の</tspan><tspan x="894.300" y="541.300">ジレンマ</tspan></text></g>
<g id="n69" class="n"><rect class="w" x="868.300" y="631.700" width="38.300" height="39"/><path class="a" d="M871 667h8"/><text font-size="4.700"><tspan x="887.500" y="639">一元から</tspan><tspan x="887.500" y="646">多元世界</tspan><tspan x="887.500" y="653.400">大量生産</tspan><tspan x="887.500" y="660.400">時代から？</tspan></text></g>
<g id="n73" class="n"><rect class="w" x="1024" y="373.300" width="38.700" height="40"/><path class="a" d="M1026 409h8"/><text font-size="4.700"><tspan x="1043.300" y="381.700">寄贈の価値だ</tspan><tspan x="1043.300" y="388.400">けで育てると</tspan><tspan x="1043.300" y="395.400">パイが縮んで</tspan><tspan x="1043.300" y="402.400">いく</tspan></text></g>

<g id="n74" class="n"><rect class="l" x="1055" y="403.300" width="38.300" height="40"/><path class="a" d="M1058 439h8"/><text font-size="4"><tspan x="1074.200" y="418.800">最後の豊い合い</tspan><tspan x="1074.200" y="424.800">(1 価値の状態)</tspan></text></g>
<g id="n75" class="n"><rect class="l" x="1065" y="465" width="39" height="40"/><path class="a" d="M1068 501h8"/><text font-size="3.200"><tspan x="1084.500" y="480.500">価値の記憶的な豊かさ</tspan><tspan x="1084.500" y="484.500">個別な価値観の流れの</tspan></text></g>
<g id="n76" class="n"><rect class="b" x="1065" y="513.700" width="39" height="40.300"/><path class="a" d="M1068 550h8"/><text font-size="4.800"><tspan x="1084.500" y="532.800">ポピュリズム</tspan></text></g>
<g id="n77" class="n"><rect class="y" x="1102" y="356.700" width="40" height="40.700"/><path class="a" d="M1105 393h8"/><text font-size="4.800"><tspan x="1122" y="369.100">他者の手段用</tspan><tspan x="1122" y="376.100">や自己責任論</tspan><tspan x="1122" y="383.100">が優勢</tspan></text></g>
<g id="n78" class="n"><rect class="y" x="1181" y="346.700" width="39.700" height="41"/><path class="a" d="M1184 383h8"/><text font-size="6.400"><tspan x="1200.800" y="361.100">連帯より</tspan><tspan x="1200.800" y="372.400">競争</tspan></text></g>
<g id="n79" class="n"><rect class="y" x="1213.300" y="372" width="39.300" height="40"/><path class="a" d="M1216 408h8"/><text font-size="5.800"><tspan x="1233" y="386.400">経済と所得</tspan><tspan x="1233" y="395.400">偏重の世論</tspan></text></g>
<g id="n80" class="n"><rect class="r" x="1098" y="412.700" width="39.300" height="40"/><path class="a" d="M1100 449h8"/><text font-size="6"><tspan x="1117.700" y="422.900">SNS・</tspan><tspan x="1117.700" y="432.200">ネットに</tspan><tspan x="1117.700" y="441.500">依存する</tspan></text></g>
<g id="n81" class="n"><rect class="p" x="1136.300" y="444" width="39.300" height="41"/><path class="a" d="M1139 481h8"/><text font-size="5.800"><tspan x="1156" y="458.800">社会保障</tspan><tspan x="1156" y="468.100">負担の増加</tspan></text></g>
<g id="n82" class="n"><rect class="p" x="1192.300" y="438.300" width="40" height="39.300"/><path class="a" d="M1195 474h8"/><text font-size="5"><tspan x="1212.300" y="449.500">パラレル/</tspan><tspan x="1212.300" y="456.100">ギグ</tspan><tspan x="1212.300" y="464.100">エコノミー化</tspan></text></g>
<g id="n83" class="n"><rect class="l" x="1239.700" y="419" width="38" height="41"/><path class="a" d="M1242 456h8"/><text font-size="4.300"><tspan x="1258.700" y="437.600">成長率エライ！</tspan></text></g>
<g id="n84" class="n"><rect class="l" x="1240" y="462.700" width="38.300" height="40"/><path class="a" d="M1242 499h8"/><text font-size="3.200"><tspan x="1259.200" y="476.200">問題に対して</tspan><tspan x="1259.200" y="480.200">複数の人々</tspan><tspan x="1259.200" y="483.900">具体的に</tspan><tspan x="1259.200" y="487.900">動かせるかを判断する</tspan></text></g>
<g id="n85" class="n"><rect class="g" x="1276" y="487.300" width="14.700" height="15.300"/><text font-size="2.400"><tspan x="1283.300" y="492">小さな</tspan><tspan x="1283.300" y="495">人間の</tspan><tspan x="1283.300" y="498">価値</tspan></text></g>
<g id="n86" class="n"><rect class="g" x="1112" y="496" width="39" height="40"/><path class="a" d="M1115 532h8"/><text font-size="3.300"><tspan x="1131.500" y="509.500">AIの自分だけのカスタム</tspan><tspan x="1131.500" y="515.200">集めて作業向けの</tspan><tspan x="1131.500" y="520.500">まとめる分析を作成する</tspan></text></g>
<g id="n87" class="n"><rect class="g" x="1158" y="494.300" width="39" height="40"/><path class="a" d="M1161 530h8"/><text font-size="14"><tspan x="1177.500" y="516.200">萎縮</tspan></text></g>
<g id="n88" class="n"><rect class="g" x="1201.700" y="494.300" width="38.700" height="40"/><path class="a" d="M1204 530h8"/><text font-size="4.900"><tspan x="1221" y="509.500">助けたくても</tspan><tspan x="1221" y="516.800">病気づく</tspan></text></g>
<g id="n89" class="n"><rect class="b" x="1243.300" y="506" width="38.300" height="40.700"/><path class="a" d="M1246 543h8"/><text font-size="3.200"><tspan x="1262.500" y="515.200">労働力不足がある社会</tspan><tspan x="1262.500" y="519.500">の暮らしやすさより</tspan><tspan x="1262.500" y="523.500">カイゼン、効率よい</tspan><tspan x="1262.500" y="527.200">人々の支え合う力を</tspan><tspan x="1262.500" y="531.200">創造できなくなる</tspan></text></g>
<g id="n90" class="n"><rect class="y" x="1302.700" y="351.700" width="40" height="40.300"/><path class="a" d="M1305 388h8"/><text font-size="6.400" font-weight="700"><tspan x="1322.700" y="365.700">不安感・</tspan><tspan x="1322.700" y="376.100">欠乏感</tspan></text></g>
<g id="n91" class="n"><rect class="r" x="1346.700" y="341.300" width="39.300" height="40.700"/><path class="a" d="M1349 378h8"/><text font-size="4"><tspan x="1366.300" y="353.800">他者の</tspan><tspan x="1366.300" y="359.800">ものさしで</tspan><tspan x="1366.300" y="365.800">判断してしまう</tspan></text></g>
<g id="n94" class="n"><rect class="m" x="1471" y="318.300" width="21" height="21.700"/><text font-size="2.400"><tspan x="1481.500" y="326">小さな幸せの</tspan><tspan x="1481.500" y="329.500">価値を取り戻す</tspan><tspan x="1481.500" y="332.500">ために</tspan></text></g>
<g id="n93" class="n"><rect class="p" x="1451.700" y="341" width="39.300" height="40.700"/><path class="a" d="M1454 378h8"/><text font-size="5.300"><tspan x="1471.300" y="357">精神状態の</tspan><tspan x="1471.300" y="365.300">悪化</tspan></text></g>
<g id="n92" class="n"><rect class="p" x="1409.700" y="347.300" width="39.300" height="40.300"/><path class="a" d="M1412 384h8"/><text font-size="10.500"><tspan x="1429.300" y="361.600">バーン</tspan><tspan x="1429.300" y="376.600">アウト</tspan></text></g>
<g id="n95" class="n"><rect class="p" x="1394.300" y="391.300" width="38.700" height="40.300"/><path class="a" d="M1397 428h8"/><text font-size="5.600"><tspan x="1413.700" y="401.400">定常的な</tspan><tspan x="1413.700" y="410.800">心身の</tspan><tspan x="1413.700" y="419.400">こわばり</tspan></text></g>
<g id="n96" class="n"><rect class="p" x="1437.300" y="386" width="39.300" height="40"/><path class="a" d="M1440 422h8"/><text font-size="5"><tspan x="1457" y="397.800">自然の</tspan><tspan x="1457" y="405.100">バイオリズム</tspan><tspan x="1457" y="411.800">からの断絶</tspan></text></g>
<g id="n97" class="n"><rect class="r" x="1334.300" y="401" width="39.300" height="40.300"/><path class="a" d="M1337 437h8"/><text font-size="5.800"><tspan x="1354" y="416.100">終わらない</tspan><tspan x="1354" y="424.400">競争</tspan></text></g>
<g id="n98" class="n"><rect class="r" x="1346.700" y="444.300" width="39.300" height="40.700"/><path class="a" d="M1349 481h8"/><text font-size="4.800"><tspan x="1366.300" y="455.800">余暇を</tspan><tspan x="1366.300" y="463.500">作ろうと</tspan><tspan x="1366.300" y="470.800">効率化にまる</tspan></text></g>
<g id="n99" class="n"><rect class="m" x="1423.300" y="434" width="12.700" height="12.700"/></g>
<g id="n100" class="n"><rect class="y" x="1302.700" y="461" width="40" height="40"/><path class="a" d="M1305 497h8"/><text font-size="6"><tspan x="1322.700" y="475.500">消費・体験</tspan><tspan x="1322.700" y="484.500">に出費</tspan></text></g>
<g id="n101" class="n"><rect class="y" x="1394" y="461" width="38.700" height="40"/><path class="a" d="M1397 497h8"/><text font-size="6.400"><tspan x="1413.300" y="475.100">一時的な</tspan><tspan x="1413.300" y="485.100">喜び</tspan></text></g>
<g id="n102" class="n"><rect class="l" x="1439" y="436.700" width="48" height="48"/><path class="a" d="M1442 480h10"/><text font-size="3.300"><tspan x="1463" y="450.500">マインドフルネスで立入</tspan><tspan x="1463" y="455.200">様々な対象のに見れる方</tspan><tspan x="1463" y="459.900">消費される</tspan><tspan x="1463" y="464.500">(より良くなれる)</tspan></text></g>
<g id="n103" class="n"><rect class="g" x="1437" y="494.300" width="39.700" height="40"/><path class="a" d="M1440 530h8"/><text font-size="5.600"><tspan x="1456.800" y="508.800">時間がない</tspan><tspan x="1456.800" y="518.100">という焦り</tspan></text></g>
<g id="n104" class="n"><rect class="b" x="1302.700" y="516.700" width="39.700" height="40"/><path class="a" d="M1305 553h8"/><text font-size="4.800"><tspan x="1322.500" y="527.800">体が嫌いこと</tspan><tspan x="1322.500" y="535.100">を受け入れら</tspan><tspan x="1322.500" y="542.500">れなくなる</tspan></text></g>
<g id="n105" class="n"><rect class="b" x="1348.700" y="513.700" width="39.300" height="39.700"/><path class="a" d="M1351 550h8"/><text font-size="4.800"><tspan x="1368.300" y="521.100">自分の人生を</tspan><tspan x="1368.300" y="529.500">自分の考えで</tspan><tspan x="1368.300" y="536.500">決めることが</tspan><tspan x="1368.300" y="543.800">できない</tspan></text></g>
<g id="n106" class="n"><rect class="b" x="1386" y="517.700" width="39" height="40"/><path class="a" d="M1389 554h8"/><text font-size="4.800"><tspan x="1405.500" y="530.500">自分の人生に</tspan><tspan x="1405.500" y="537.500">責任を持つこ</tspan><tspan x="1405.500" y="544.500">とができない</tspan></text></g>

<g id="n107" class="n"><rect class="p" x="1517.700" y="338.300" width="39.700" height="40.700"/><text font-size="3.700"><tspan x="1537.500" y="348.100">人と物理的に</tspan><tspan x="1537.500" y="353.400">悩くないされした</tspan><tspan x="1537.500" y="359.100">つながりづらい</tspan><tspan x="1537.500" y="364.100">親類感</tspan></text></g>
<g id="n108" class="n"><rect class="p" x="1486" y="370" width="39" height="40"/><path class="a" d="M1489 406h8"/><text font-size="4.600"><tspan x="1505.500" y="381.400">自分らしさ</tspan><tspan x="1505.500" y="388.400">を作らないと</tspan><tspan x="1505.500" y="395.700">損もれそう</tspan></text></g>
<g id="n109" class="n"><rect class="p" x="1523.300" y="371.700" width="39.300" height="40.700"/><path class="a" d="M1526 408h8"/><text font-size="4.200"><tspan x="1543" y="384.800">価値観が</tspan><tspan x="1543" y="390.500">近い人と共感が</tspan><tspan x="1543" y="395.800">つながりたい</tspan></text></g>
<g id="n110" class="n"><rect class="m" x="1562.700" y="373.300" width="21.300" height="21.700"/><text font-size="2.400"><tspan x="1573.300" y="380">自分らしさは</tspan><tspan x="1573.300" y="383">人とのつながり</tspan><tspan x="1573.300" y="386">の中に</tspan></text></g>
<g id="n111" class="n"><rect class="y" x="1490" y="410" width="39.300" height="40.700"/><path class="a" d="M1493 446h8"/><text font-size="5"><tspan x="1509.700" y="421.100">自分らしく、</tspan><tspan x="1509.700" y="428.500">注目される自</tspan><tspan x="1509.700" y="435.800">分でいたい</tspan></text></g>
<g id="n112" class="n"><rect class="w" x="1528.300" y="415" width="38.300" height="39"/><path class="a" d="M1531 450h8"/><text font-size="4.600"><tspan x="1547.500" y="426.700">近い存在ほど</tspan><tspan x="1547.500" y="433.700">渇望を</tspan><tspan x="1547.500" y="440.700">増加しやすい</tspan></text></g>
<g id="n113" class="n"><rect class="k" x="1591" y="393.300" width="48" height="49.300"/><path class="a" d="M1594 438h8"/><text font-size="6"><tspan x="1615" y="407.900">満たされない</tspan><tspan x="1615" y="417.200">自己表現</tspan><tspan x="1615" y="425.500">ループ</tspan></text></g>
<g id="n114" class="n"><rect class="w" x="1569" y="440.700" width="38.700" height="40.300"/><path class="a" d="M1572 477h8"/><text font-size="5"><tspan x="1588.300" y="449.100">ループにまき</tspan><tspan x="1588.300" y="456.100">こまれずに自</tspan><tspan x="1588.300" y="463.500">分の好きの道</tspan><tspan x="1588.300" y="471.100">に行くには？</tspan></text></g>
<g id="n115" class="n"><rect class="w" x="1482.300" y="450" width="39.300" height="40.700"/><path class="a" d="M1485 487h8"/><text font-size="5"><tspan x="1502" y="463.500">ループから</tspan><tspan x="1502" y="470.800">外れてると</tspan><tspan x="1502" y="477.800">変わり者扱い</tspan></text></g>
<g id="n116" class="n"><rect class="l" x="1486" y="493.300" width="39" height="40"/><path class="a" d="M1489 529h8"/><text font-size="4.200"><tspan x="1505.500" y="505.500">勉強嫌い</tspan><tspan x="1505.500" y="512.200">学びの多</tspan><tspan x="1505.500" y="517.200">解釈しにくい</tspan></text></g>
<g id="n117" class="n"><rect class="b" x="1472.300" y="527.700" width="38.300" height="40.700"/><path class="a" d="M1475 564h8"/><text font-size="4.600"><tspan x="1491.500" y="539.400">患者依存的な</tspan><tspan x="1491.500" y="546.700">条件付き</tspan><tspan x="1491.500" y="553.400">自己肯定感</tspan></text></g>
<g id="n118" class="n"><rect class="k" x="1552.700" y="500" width="46.300" height="50"/><path class="a" d="M1556 545h8"/><text font-size="5"><tspan x="1575.800" y="512.500">多重構造</tspan><tspan x="1575.800" y="520.100">自分がどこで</tspan><tspan x="1575.800" y="527.500">満たされるのか</tspan><tspan x="1575.800" y="534.100">目覚できない</tspan></text></g>
<g id="n119" class="n"><rect class="w" x="1588.700" y="541.700" width="38" height="40"/><text font-size="4.800"><tspan x="1607.700" y="549.800">絶対視してた</tspan><tspan x="1607.700" y="556.800">ことが小さく</tspan><tspan x="1607.700" y="563.800">感じられる瞬</tspan><tspan x="1607.700" y="571.100">間を知る</tspan></text></g>

<g id="n120" class="n"><rect class="p" x="1092.700" y="607.300" width="39.300" height="40.300"/><path class="a" d="M1095 643h8"/><text font-size="6"><tspan x="1112.300" y="617.200">集中力</tspan><tspan x="1112.300" y="627.200">理解力</tspan><tspan x="1112.300" y="636.200">の低下</tspan></text></g>
<g id="n121" class="n"><rect class="g" x="1133.700" y="612" width="39.300" height="40.700"/><path class="a" d="M1136 648h8"/><text font-size="4.800"><tspan x="1153.300" y="624.100">人を</tspan><tspan x="1153.300" y="631.100">信じられない</tspan><tspan x="1153.300" y="638.500">社会へ</tspan></text></g>
<g id="n122" class="n"><rect class="y" x="1228.300" y="607.300" width="39.300" height="40.700"/><path class="a" d="M1231 644h8"/><text font-size="10.200"><tspan x="1248" y="621.500">写真</tspan><tspan x="1248" y="635.500">アップ</tspan></text></g>
<g id="n123" class="n"><rect class="g" x="1106.700" y="662" width="38.700" height="40.300"/><path class="a" d="M1109 698h8"/><text font-size="5.600"><tspan x="1126" y="672.100">選ばれた</tspan><tspan x="1126" y="681.100">結果に</tspan><tspan x="1126" y="690.100">翻弄される</tspan></text></g>
<g id="n124" class="n"><rect class="g" x="1158.300" y="666" width="39" height="40.700"/><path class="a" d="M1161 703h8"/><text font-size="4.700"><tspan x="1177.800" y="675">他目（美）に</tspan><tspan x="1177.800" y="682">作られた</tspan><tspan x="1177.800" y="689">成功指標で</tspan><tspan x="1177.800" y="696">日々を生きる</tspan></text></g>
<g id="n126" class="n"><rect class="g" x="1120" y="701.700" width="39" height="40"/><path class="a" d="M1123 738h8"/><text font-size="3.500"><tspan x="1139.500" y="712">自分で選ばない</tspan><tspan x="1139.500" y="717">ように評価</tspan><tspan x="1139.500" y="722">価値が作れるもの</tspan><tspan x="1139.500" y="728">（一切価値ですが）</tspan></text></g>
<g id="n127" class="n"><rect class="w" x="1083.300" y="729" width="39" height="40"/><path class="a" d="M1086 765h8"/><text font-size="4.800"><tspan x="1102.800" y="744.500">コントロール</tspan><tspan x="1102.800" y="751.100">幻想</tspan></text></g>
<g id="n125" class="n"><rect class="r" x="1214" y="666" width="39.300" height="40.700"/><path class="a" d="M1217 703h8"/><text font-size="10.500"><tspan x="1233.700" y="679.900">贅沢が</tspan><tspan x="1233.700" y="695.200">増える</tspan></text></g>
<g id="n128" class="n"><rect class="r" x="1213.300" y="716.300" width="39" height="40.700"/><path class="a" d="M1216 753h8"/><text font-size="3.800"><tspan x="1232.800" y="730.700">非効率なものが</tspan><tspan x="1232.800" y="736.700">残存されにくい</tspan></text></g>
<g id="n129" class="n"><rect class="l" x="1161.300" y="760.300" width="39" height="40.700"/><path class="a" d="M1164 797h8"/><text font-size="10.400"><tspan x="1180.800" y="782.100">AIダメ</tspan></text></g>
<g id="n130" class="n"><rect class="b" x="1266" y="755.700" width="39.300" height="40"/><path class="a" d="M1269 792h8"/><text font-size="4.500"><tspan x="1285.700" y="763.700">「成長」につな</tspan><tspan x="1285.700" y="770.700">がる部族。書</tspan><tspan x="1285.700" y="777.400">籍コンテンツ</tspan><tspan x="1285.700" y="785">の蔓延。</tspan></text></g>
<g id="n131" class="n"><rect class="y" x="1302.300" y="621.300" width="40" height="40.300"/><path class="a" d="M1305 657h8"/><text font-size="5.700"><tspan x="1322.300" y="631.400">売上UP</tspan><tspan x="1322.300" y="640.100">ビジネスの</tspan><tspan x="1322.300" y="649.100">成功法則化</tspan></text></g>
<g id="n132" class="n"><rect class="g" x="1366.700" y="616.300" width="38.700" height="41"/><path class="a" d="M1369 653h8"/><text font-size="4.600"><tspan x="1386" y="632">何もしないが</tspan><tspan x="1386" y="639">意の機動</tspan></text></g>
<g id="n133" class="n"><rect class="g" x="1366.700" y="661.700" width="38.700" height="40.700"/><path class="a" d="M1369 698h8"/><text font-size="5.500"><tspan x="1386" y="671.300">長期目線で</tspan><tspan x="1386" y="680.700">いいものが</tspan><tspan x="1386" y="689.700">作りにくく</tspan></text></g>
<g id="n134" class="n"><rect class="r" x="1313" y="666" width="39.300" height="40.700"/><path class="a" d="M1316 703h8"/><text font-size="3.900"><tspan x="1332.700" y="679.100">消費者に促す</tspan><tspan x="1332.700" y="685.100">製品・サービスを</tspan><tspan x="1332.700" y="690.100">開発する</tspan></text></g>
<g id="n135" class="n"><rect class="r" x="1330.300" y="716.300" width="39.300" height="40.300"/><path class="a" d="M1333 753h8"/><text font-size="10"><tspan x="1350" y="729.700">資源の</tspan><tspan x="1350" y="743.700">枯渇</tspan></text></g>
<g id="n136" class="n"><rect class="p" x="1386" y="701.700" width="47.300" height="47.700"/><path class="a" d="M1389 745h10"/><text font-size="5.500"><tspan x="1409.700" y="715.300">食の</tspan><tspan x="1409.700" y="723.700">安全保障</tspan><tspan x="1409.700" y="732.700">が危うくなる</tspan></text></g>
<g id="n137" class="n"><rect class="b" x="1368.300" y="758.300" width="40" height="41.700"/><path class="a" d="M1371 796h8"/><text font-size="5"><tspan x="1388.300" y="766.800">「ハレとケ」</tspan><tspan x="1388.300" y="774.100">の「ケ」がラ</tspan><tspan x="1388.300" y="781.800">グジュアリー</tspan><tspan x="1388.300" y="789.100">化</tspan></text></g>
<g id="n138" class="n"><rect class="p" x="1433.300" y="686.700" width="39.300" height="40"/><path class="a" d="M1436 723h8"/><text font-size="4.600"><tspan x="1453" y="693.700">人体に悪影響</tspan><tspan x="1453" y="701">のあるものが</tspan><tspan x="1453" y="708.400">売られ</tspan><tspan x="1453" y="715.400">摂取される</tspan></text></g>
<g id="n139" class="n"><rect class="p" x="1433.300" y="727.300" width="39.300" height="39.300"/><path class="a" d="M1436 763h8"/><text font-size="4.800"><tspan x="1453" y="738.800">健康に良い</tspan><tspan x="1453" y="746.100">安いものが</tspan><tspan x="1453" y="753.100">広まりづらい</tspan></text></g>
<g id="n140" class="n"><rect class="l" x="1418.300" y="603.300" width="38.300" height="40"/><path class="a" d="M1421 639h8"/><text font-size="2.800"><tspan x="1437.500" y="615">ステークホルダー資本主義</tspan><tspan x="1437.500" y="619.300">の手前にいて</tspan><tspan x="1437.500" y="623.700">それぞれの世代で</tspan><tspan x="1437.500" y="627">考えて行動する</tspan><tspan x="1437.500" y="630.500">価値を持つ</tspan></text></g>
<g id="n141" class="n"><rect class="l" x="1461" y="603.300" width="39" height="40"/><path class="a" d="M1464 639h8"/><text font-size="3"><tspan x="1480.500" y="616.100">キャッシュレスの安心から</tspan><tspan x="1480.500" y="621.100">消費が中毒化</tspan><tspan x="1480.500" y="626.100">抜けられなくなる</tspan></text></g>
<g id="n142" class="n"><rect class="w" x="1473.300" y="691.700" width="39" height="40"/><path class="a" d="M1476 728h8"/><text font-size="6"><tspan x="1492.800" y="704.900">食と心の</tspan><tspan x="1492.800" y="715.500">豊かさ</tspan></text></g>
<g id="n143" class="n"><rect class="k" x="1512.700" y="639.700" width="57.300" height="58.700"/><path class="a" d="M1516 693h12"/><text font-size="6.800"><tspan x="1541.300" y="657.800">心の豊かさと</tspan><tspan x="1541.300" y="668.200">物質経済の</tspan><tspan x="1541.300" y="678.500">絡み合い</tspan></text></g>
<g id="n144" class="n"><rect class="g" x="1474" y="753.300" width="25.300" height="26.700"/><text font-size="3.200"><tspan x="1486.700" y="760.500">野菜された</tspan><tspan x="1486.700" y="765.200">尿大な物</tspan><tspan x="1486.700" y="771.200">食べがち</tspan></text></g>
<g id="n145" class="n"><rect class="g" x="1474" y="781" width="26" height="26.300"/><path class="a" d="M1476 804h6"/><text font-size="4"><tspan x="1487" y="790.800">土地も</tspan><tspan x="1487" y="798.200">痩せがち</tspan></text></g>
<g id="n146" class="n"><rect class="g" x="1499.300" y="781" width="25.700" height="26.300"/><path class="a" d="M1501 804h6"/><text font-size="2.600"><tspan x="1512.200" y="787">Fast food is</tspan><tspan x="1512.200" y="791.700">安全だけど</tspan><tspan x="1512.200" y="796.700">添付される</tspan><tspan x="1512.200" y="801">食べすぎでは</tspan></text></g>

<g id="reactions">
<use href="#em" x="437.300" y="495"/><use href="#em" x="555" y="405.700"/><use href="#em" x="800.700" y="548.700"/><use href="#em" x="838" y="579"/><use href="#em" x="1446.700" y="488.700"/><use href="#em" x="1395" y="752.700"/>
</g>
</g>
</svg>
